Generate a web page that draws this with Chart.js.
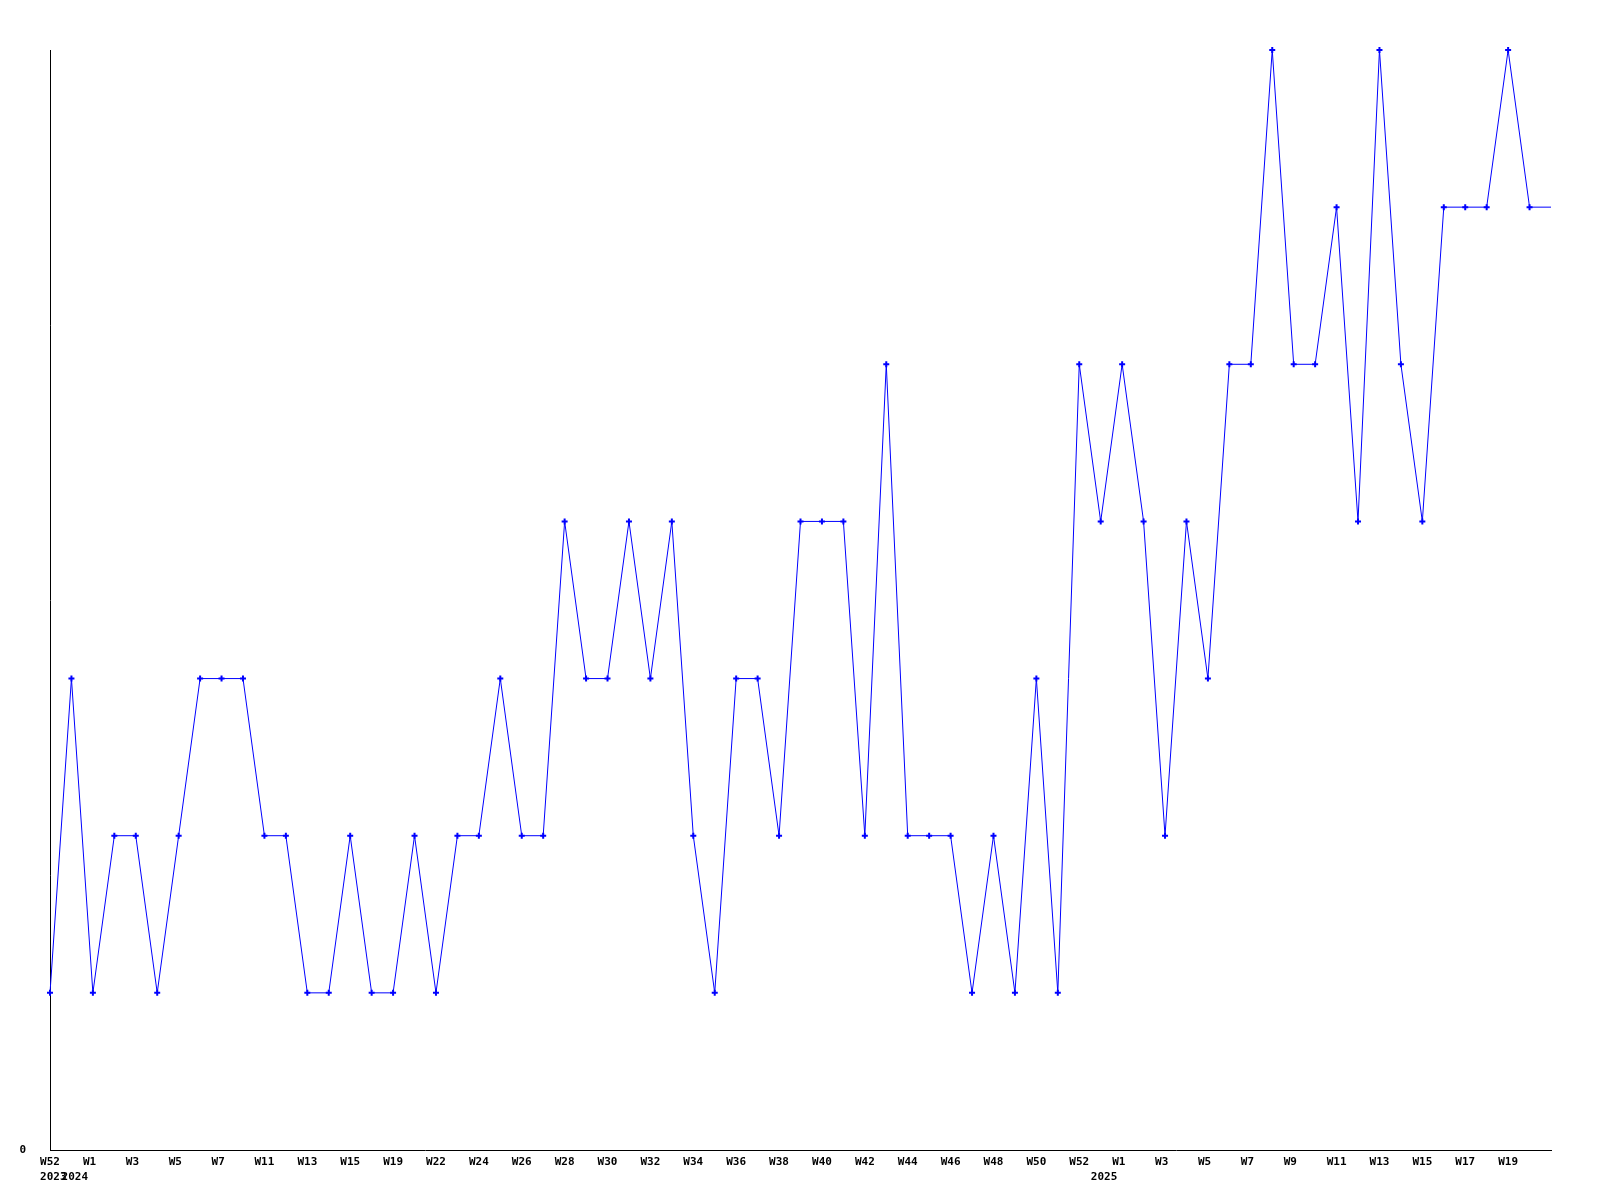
<!DOCTYPE html>
<html>
<head>
<meta charset="utf-8">
<script src="https://cdn.jsdelivr.net/npm/chart.js@4/dist/chart.umd.min.js"></script>
<style>
  html, body { margin: 0; padding: 0; background: #ffffff; }
  #wrap { width: 1600px; height: 1200px; }
</style>
</head>
<body>
<div id="wrap"><canvas id="c" width="1600" height="1200"></canvas></div>
<script>
// Week labels shown on the x axis (every other point), as in the reference
const weekLabels = ['W52','','W1','','W3','','W5','','W7','','W11','','W13','','W15','','W19','','W22','','W24','','W26','','W28','','W30','','W32','','W34','','W36','','W38','','W40','','W42','','W44','','W46','','W48','','W50','','W52','','W1','','W3','','W5','','W7','','W9','','W11','','W13','','W15','','W17','','W19','',''];
// Year labels (second line) by point index
const yearLabels = { 0: '2023', 1: '2024', 49: '2025' };
// Weekly values
const values = [1,3,1,2,2,1,2,3,3,3,2,2,1,1,2,1,1,2,1,2,2,3,2,2,4,3,3,4,3,4,2,1,3,3,2,4,4,4,2,5,2,2,2,1,2,1,3,1,5,4,5,4,2,4,3,5,5,7,5,5,6,4,7,5,4,6,6,6,7,6,6];
const yTicks = [0];

const labels = values.map((v, i) => {
  let w = weekLabels[i] || '';
  if (w.length === 2) w = w + ' ';
  const y = yearLabels[i];
  return y ? [w, ' ' + y] : [w];
});

const font = { family: '"DejaVu Sans Mono", monospace', size: 11, weight: 'bold', lineHeight: 1.32 };

new Chart(document.getElementById('c'), {
  type: 'line',
  data: {
    labels: labels,
    datasets: [{
      data: values,
      borderColor: '#0000ff',
      backgroundColor: '#0000ff',
      borderWidth: 1,
      pointStyle: 'cross',
      pointRadius: values.map((v, i) => i === values.length - 1 ? 0 : 3),
      pointBorderWidth: 2,
      pointHoverRadius: 3,
      tension: 0,
      fill: false,
      clip: false
    }]
  },
  options: {
    responsive: false,
    animation: false,
    events: [],
    layout: { padding: { top: 50, right: 49, left: 0, bottom: 0 } },
    plugins: { legend: { display: false }, tooltip: { enabled: false } },
    scales: {
      x: {
        type: 'category',
        offset: false,
        grid: { display: false, drawTicks: false, tickLength: 0 },
        border: { display: true, color: '#000000', width: 1 },
        ticks: {
          autoSkip: false,
          maxRotation: 0,
          minRotation: 0,
          padding: 5,
          color: '#000000',
          font: font
        },
        afterFit: (s) => { s.height = 50; }
      },
      y: {
        min: 0,
        max: 7,
        grid: { display: false, drawTicks: false, tickLength: 0 },
        border: { display: true, color: '#000000', width: 1 },
        afterBuildTicks: (s) => { s.ticks = yTicks.map(v => ({ value: v })); },
        ticks: {
          padding: 24,
          color: '#000000',
          font: font,
          callback: (v) => String(v)
        },
        afterFit: (s) => { s.width = 50; }
      }
    }
  }
});
</script>
</body>
</html>
